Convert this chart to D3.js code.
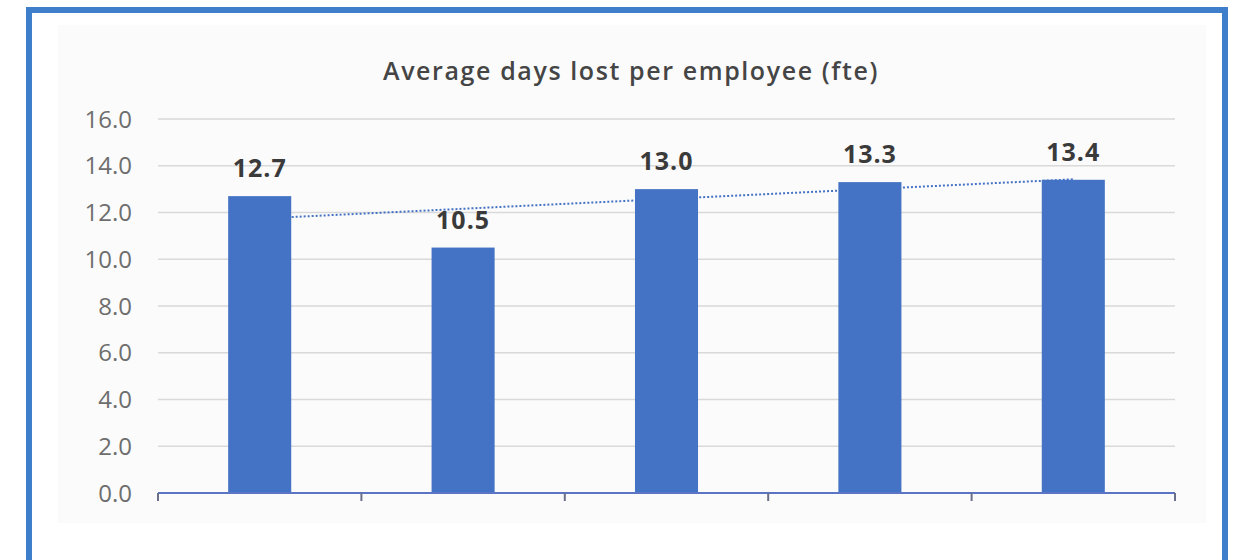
<!DOCTYPE html>
<html><head><meta charset="utf-8">
<script src="https://cdn.jsdelivr.net/npm/d3@7"></script>
<style>html,body{margin:0;padding:0;background:#fff;}svg{display:block;}</style>
</head><body>
<svg id="c" width="1242" height="560"></svg>
<script>
const categories = ["Year 1", "Year 2", "Year 3", "Year 4", "Year 5"];
const values = [12.7, 10.5, 13.0, 13.3, 13.4];
const yTicks = [0, 2, 4, 6, 8, 10, 12, 14, 16];
const title = "Average days lost per employee (fte)";

(function () {
const svg = d3.select("#c");
// outer frame
svg.append("rect").attr("x", 29).attr("y", 10).attr("width", 1196).attr("height", 560)
  .attr("fill", "#fff").attr("stroke", "#3f7ecb").attr("stroke-width", 6);
// chart area background
svg.append("rect").attr("x", 58).attr("y", 25).attr("width", 1148).attr("height", 498).attr("fill", "#fbfbfb");

const pl = 158, pr = 1175, pt = 119, pb = 493;
const x = d3.scaleBand().domain(categories).range([pl, pr]).paddingInner(0.69).paddingOuter(0.345);
const y = d3.scaleLinear().domain([0, 16]).range([pb, pt]);

// gridlines
svg.append("g").selectAll("line").data(yTicks.filter(d => d > 0)).join("line")
  .attr("x1", pl).attr("x2", pr).attr("y1", d => y(d)).attr("y2", d => y(d))
  .attr("stroke", "#d9d9d9").attr("stroke-width", 1.5);

// y tick labels
const yAxis = svg.append("g").attr("transform", `translate(${pl},0)`)
  .call(d3.axisLeft(y).tickValues(yTicks).tickFormat(d3.format(".1f")).tickSize(0).tickPadding(26));
yAxis.select(".domain").remove();
yAxis.selectAll("text").attr("font-family", "'Open Sans', sans-serif").attr("font-size", 24)
  .attr("fill", "#6e6e6e").attr("dy", "0.34em");

// trendline (linear regression)
const xs = values.map((d, i) => i + 1);
const mx = d3.mean(xs), my = d3.mean(values);
const slope = d3.sum(xs.map((xi, i) => (xi - mx) * (values[i] - my))) / d3.sum(xs.map(xi => (xi - mx) ** 2));
const icpt = my - slope * mx;
const cx = c => x(c) + x.bandwidth() / 2;
svg.append("line")
  .attr("x1", cx(categories[0])).attr("y1", y(icpt + slope * 1))
  .attr("x2", cx(categories[4])).attr("y2", y(icpt + slope * 5))
  .attr("stroke", "#4472c4").attr("stroke-width", 2).attr("stroke-dasharray", "2,2");

// bars
svg.append("g").selectAll("rect").data(values).join("rect")
  .attr("x", (d, i) => x(categories[i])).attr("width", x.bandwidth())
  .attr("y", d => y(d)).attr("height", d => y(0) - y(d)).attr("fill", "#4472c4");

// data labels
svg.append("g").selectAll("text").data(values).join("text")
  .attr("x", (d, i) => cx(categories[i])).attr("y", d => y(d) - 19)
  .attr("text-anchor", "middle").attr("font-family", "'Open Sans', sans-serif")
  .attr("font-weight", 700).attr("font-size", 25).attr("letter-spacing", 1).attr("fill", "#3a3a3a")
  .text(d => d3.format(".1f")(d));

// x axis
const xAxis = svg.append("g").attr("transform", `translate(0,${pb})`);
xAxis.append("line").attr("x1", pl).attr("x2", pr).attr("stroke", "#5b74c4").attr("stroke-width", 2);
const bounds = categories.map(c => x(c) - x.step() * x.paddingInner() / 2).concat([pr]);
bounds[0] = pl;
xAxis.selectAll("line.t").data(bounds).join("line").attr("class", "t")
  .attr("x1", d => d).attr("x2", d => d).attr("y1", 0).attr("y2", 8)
  .attr("stroke", "#6a6f8a").attr("stroke-width", 2);

// title
svg.append("text").attr("x", 631).attr("y", 80).attr("text-anchor", "middle")
  .attr("font-family", "'Open Sans', sans-serif").attr("font-weight", 600).attr("font-size", 25)
  .attr("letter-spacing", 1.6).attr("fill", "#454545").text(title);
})();
</script>
</body></html>
